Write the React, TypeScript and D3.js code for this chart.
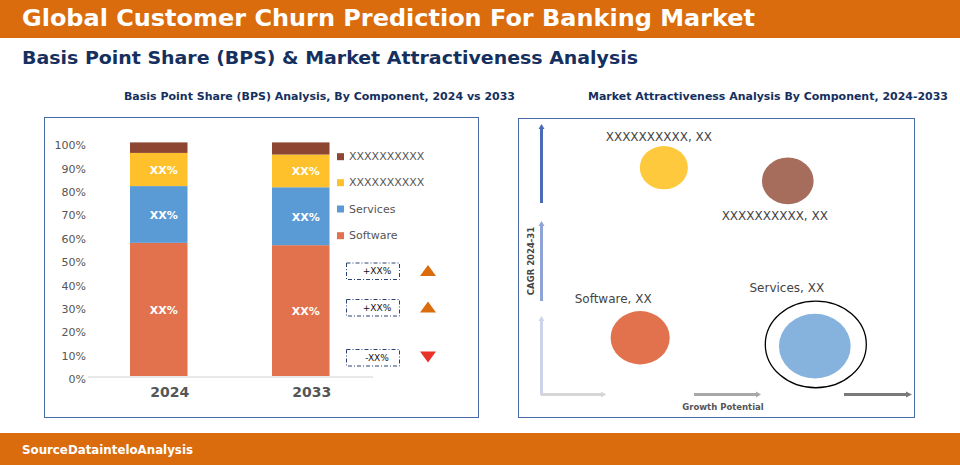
import React from "react";
import * as d3 from "d3";

const years = ["2024", "2033"];
const segments = ["Software", "Services", "Segment3", "Segment4"];
const segmentLegend = ["XXXXXXXXXX", "XXXXXXXXXX", "Services", "Software"];
const software = [57, 56];
const services = [24.3, 24.8];
const seg3 = [14.2, 14];
const seg4 = [4.5, 5.2];
const yTicks = [0, 10, 20, 30, 40, 50, 60, 70, 80, 90, 100];
const changeLabels = ["+XX%", "+XX%", "-XX%"];
const changeDir = ["up", "up", "down"];

const bubbleNames = ["XXXXXXXXXX, XX", "XXXXXXXXXX, XX", "Software, XX", "Services, XX"];
const bubbleGrowth = [33.2, 66.7, 26.8, 74];
const bubbleCagr = [84.2, 79.3, 21.2, 18.1];
const bubbleSize = [45, 52, 68, 100];

const segColors = ["#E2714E", "#5B9BD5", "#FFC12B", "#8C4632"];
const legendColors = ["#8C4632", "#FFC12B", "#5B9BD5", "#E2714E"];
const bubbleColors = ["#FFC93D", "#A66C5C", "#E2714E", "#86B3DE"];
const labelDy = [-31, 35, -38.5, -58];
const labelDx = [-5, -13, -27, -28];

const FONT = "'DejaVu Sans', Verdana, sans-serif";

export default function App() {
  const y = d3.scaleLinear().domain([0, 100]).range([376, 142.4]);
  const x = d3.scaleBand().domain(years).range([45.5, 414]).paddingInner(0.595).paddingOuter(0.595);
  const series = [software, services, seg3, seg4];
  const stackData = years.map((yr, i) => ({
    year: yr,
    Software: software[i],
    Services: services[i],
    Segment3: seg3[i],
    Segment4: seg4[i],
  }));
  const stacked = d3.stack<any>().keys(segments)(stackData);

  const gx = d3.scaleLinear().domain([0, 100]).range([541, 911]);
  const gy = d3.scaleLinear().domain([0, 100]).range([395, 125]);
  const rs = d3.scaleSqrt().domain([0, 100]).range([0, 32.3]);

  const legendY = [156.7, 182.7, 209, 235.7];
  const boxY = [271, 307.5, 357.5];

  return (
    <svg width={960} height={465} style={{ position: "absolute", left: 0, top: 0, fontFamily: FONT }}>
      <rect x={0} y={0} width={960} height={465} fill="#ffffff" />
      {/* header */}
      <rect x={0} y={0} width={960} height={38} fill="#DA6C0E" />
      <text x={22} y={26} fill="#fff" fontSize={23} fontWeight="bold" textLength={733} lengthAdjust="spacingAndGlyphs">
        Global Customer Churn Prediction For Banking Market
      </text>
      <text x={22} y={64} fill="#15305E" fontSize={18.5} fontWeight="bold" textLength={616} lengthAdjust="spacingAndGlyphs">
        Basis Point Share (BPS) &amp; Market Attractiveness Analysis
      </text>
      <text x={124} y={100} fill="#15305E" fontSize={11} fontWeight="bold" textLength={391} lengthAdjust="spacingAndGlyphs">
        Basis Point Share (BPS) Analysis, By Component, 2024 vs 2033
      </text>
      <text x={588} y={100} fill="#15305E" fontSize={11} fontWeight="bold" textLength={360} lengthAdjust="spacingAndGlyphs">
        Market Attractiveness Analysis By Component, 2024-2033
      </text>

      {/* left panel */}
      <rect x={44.5} y={117.5} width={434} height={300} fill="#fff" stroke="#4A69A8" strokeWidth={1} />
      {yTicks.map((t) => (
        <text key={t} x={86} y={y(t) + 3.5} textAnchor="end" dominantBaseline="central" fontSize={11} fill="#555">
          {t}%
        </text>
      ))}
      <line x1={88} x2={373} y1={377} y2={377} stroke="#d0d0d0" strokeWidth={1} />
      {stacked.map((s, si) =>
        s.map((d, i) => (
          <rect
            key={si + "-" + i}
            x={x(years[i])!}
            width={x.bandwidth()}
            y={y(d[1])}
            height={y(d[0]) - y(d[1])}
            fill={segColors[si]}
          />
        ))
      )}
      {stacked.slice(0, 3).map((s, si) =>
        s.map((d, i) => (
          <text
            key={"l" + si + "-" + i}
            x={x(years[i])! + x.bandwidth() / 2 + 5}
            y={(y(d[0]) + y(d[1])) / 2 + 1}
            textAnchor="middle"
            dominantBaseline="central"
            fontSize={11}
            fontWeight="bold"
            fill="#fff"
          >
            XX%
          </text>
        ))
      )}
      {years.map((yr) => (
        <text key={yr} x={x(yr)! + x.bandwidth() / 2 + 11} y={392} textAnchor="middle" dominantBaseline="central" fontSize={14} fontWeight="bold" fill="#555">
          {yr}
        </text>
      ))}
      {segmentLegend.map((l, i) => (
        <g key={"lg" + i}>
          <rect x={337} y={legendY[i] - 3.5} width={7} height={7} fill={legendColors[i]} />
          <text x={349} y={legendY[i]} dominantBaseline="central" fontSize={11} fill="#555">
            {l}
          </text>
        </g>
      ))}
      {changeLabels.map((l, i) => (
        <g key={"cb" + i}>
          <rect x={346.5} y={boxY[i] - 8} width={53} height={16.5} fill="none" stroke="#2C4373" strokeWidth={1} strokeDasharray="4,2,1,2" />
          <text x={377} y={boxY[i]} textAnchor="middle" dominantBaseline="central" fontSize={9} fill="#111">
            {l}
          </text>
          {changeDir[i] === "up" ? (
            <path d={`M${428 - 8},${boxY[i] + 5} L${428 + 8},${boxY[i] + 5} L428,${boxY[i] - 6} Z`} fill="#DA6C0E" />
          ) : (
            <path d={`M${428 - 8},${boxY[i] - 6} L${428 + 8},${boxY[i] - 6} L428,${boxY[i] + 5} Z`} fill="#E8322A" />
          )}
        </g>
      ))}

      {/* right panel */}
      <rect x={518.5} y={118.5} width={396} height={299} fill="#fff" stroke="#4A69A8" strokeWidth={1} />
      <line x1={541.5} x2={541.5} y1={128} y2={203} stroke="#4A6BB5" strokeWidth={3} />
      <path d="M538.5,129 L544.5,129 L541.5,124 Z" fill="#4A6BB5" />
      <line x1={541.5} x2={541.5} y1={225} y2={301} stroke="#8FA3D6" strokeWidth={3} />
      <path d="M538.5,226 L544.5,226 L541.5,221 Z" fill="#8FA3D6" />
      <line x1={541.5} x2={541.5} y1={320} y2={395} stroke="#CCD3EA" strokeWidth={3} />
      <path d="M538.5,321 L544.5,321 L541.5,316 Z" fill="#CCD3EA" />
      <line x1={541} x2={602} y1={394.5} y2={394.5} stroke="#D6D6D6" strokeWidth={3} />
      <path d="M601,391.5 L601,397.5 L606,394.5 Z" fill="#D6D6D6" />
      <line x1={694} x2={757} y1={394.5} y2={394.5} stroke="#A8A8A8" strokeWidth={3} />
      <path d="M756,391.5 L756,397.5 L761,394.5 Z" fill="#A8A8A8" />
      <line x1={844} x2={907} y1={394.5} y2={394.5} stroke="#7A7A7A" strokeWidth={3} />
      <path d="M906,391.5 L906,397.5 L912,394.5 Z" fill="#7A7A7A" />
      <text transform="translate(531,261) rotate(-90)" textAnchor="middle" dominantBaseline="central" fontSize={8.5} fontWeight="bold" fill="#444">
        CAGR 2024-31
      </text>
      <text x={723} y={407} textAnchor="middle" dominantBaseline="central" fontSize={8.5} fontWeight="bold" fill="#555">
        Growth Potential
      </text>
      {bubbleNames.map((n, i) => {
        const cx = gx(bubbleGrowth[i]);
        const cy = gy(bubbleCagr[i]);
        const r = rs(bubbleSize[i]);
        return (
          <g key={"b" + i}>
            <ellipse cx={cx} cy={cy} rx={r * 1.11} ry={r} fill={bubbleColors[i]} />
            {i === 3 && <ellipse cx={cx + 1} cy={cy - 1.7} rx={50.5} ry={43.3} fill="none" stroke="#000" strokeWidth={1.3} />}
            <text x={cx + labelDx[i]} y={cy + labelDy[i] + (labelDy[i] > 0 ? 0 : 0)} textAnchor="middle" dominantBaseline="central" fontSize={12} fill="#444">
              {n}
            </text>
          </g>
        );
      })}

      {/* footer */}
      <rect x={0} y={433} width={960} height={32} fill="#DA6C0E" />
      <text x={22} y={454} fill="#fff" fontSize={12.5} fontWeight="bold" textLength={171} lengthAdjust="spacingAndGlyphs">
        SourceDatainteloAnalysis
      </text>
    </svg>
  );
}
